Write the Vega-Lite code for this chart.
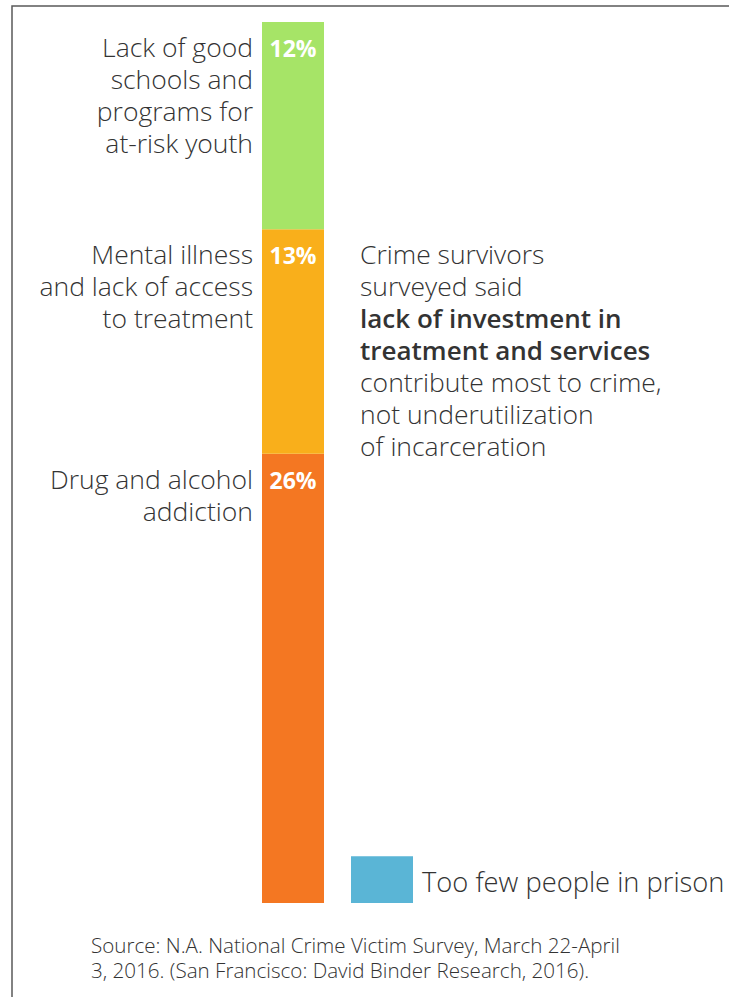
{
  "$schema": "https://vega.github.io/schema/vega-lite/v6.json",
  "width": 720,
  "height": 995,
  "autosize": "none",
  "padding": {"left": 12, "top": 6, "right": 0, "bottom": 0},
  "config": {
    "view": {"stroke": "#5a5a5a", "strokeWidth": 1.5},
    "text": {"font": "Open Sans"}
  },
  "data": {
    "values": [
      {"bar": "crime", "category": "Drug and alcohol addiction", "label": "Drug and alcohol\naddiction", "pct": "26%", "value": 26, "order": 1},
      {"bar": "crime", "category": "Mental illness and lack of access to treatment", "label": "Mental illness\nand lack of access\nto treatment", "pct": "13%", "value": 13, "order": 2},
      {"bar": "crime", "category": "Lack of good schools and programs for at-risk youth", "label": "Lack of good\nschools and\nprograms for\nat-risk youth", "pct": "12%", "value": 12, "order": 3},
      {"bar": "prison", "category": "Too few people in prison", "label": "Too few people in prison", "pct": "3%", "value": 2.7, "order": 1}
    ]
  },
  "transform": [
    {"stack": "value", "groupby": ["bar"], "sort": [{"field": "order", "order": "ascending"}], "as": ["v0", "v1"]}
  ],
  "encoding": {
    "x": {"field": "bar", "type": "nominal", "axis": null,
      "scale": {"type": "band", "domain": ["crime", "prison"], "range": [250, 401], "paddingInner": 0.3034, "paddingOuter": 0}},
    "y": {"field": "v1", "type": "quantitative", "axis": null,
      "scale": {"domain": [0, 51], "range": [897, 16], "zero": false, "nice": false}}
  },
  "layer": [
    {
      "mark": {"type": "bar"},
      "encoding": {
        "y": {"field": "v0", "type": "quantitative"},
        "y2": {"field": "v1"},
        "color": {"field": "category", "type": "nominal", "legend": null,
          "scale": {"domain": ["Drug and alcohol addiction", "Mental illness and lack of access to treatment", "Lack of good schools and programs for at-risk youth", "Too few people in prison"],
            "range": ["#f47722", "#f9af1b", "#a6e467", "#5ab5d6"]}}
      }
    },
    {
      "transform": [{"filter": "datum.bar === 'crime'"}],
      "mark": {"type": "text", "align": "center", "baseline": "alphabetic", "dy": 35, "fontSize": 23, "fontWeight": "bold", "color": "#ffffff"},
      "encoding": {
        "x": {"field": "bar", "type": "nominal", "bandPosition": 0.5},
        "text": {"field": "pct", "type": "nominal"}
      }
    },
    {
      "transform": [{"filter": "datum.bar === 'crime'"}],
      "mark": {"type": "text", "align": "right", "baseline": "alphabetic", "dx": -9, "dy": 35, "fontSize": 26.5, "fontWeight": 300, "color": "#333333", "lineBreak": "\n", "lineHeight": 32},
      "encoding": {
        "x": {"field": "bar", "type": "nominal", "bandPosition": 0},
        "text": {"field": "label", "type": "nominal"}
      }
    },
    {
      "transform": [{"filter": "datum.bar === 'prison'"}],
      "mark": {"type": "text", "align": "left", "baseline": "alphabetic", "dx": 9, "dy": -11, "fontSize": 27.3, "fontWeight": 300, "color": "#333333"},
      "encoding": {
        "x": {"field": "bar", "type": "nominal", "bandPosition": 1},
        "y": {"field": "v0", "type": "quantitative"},
        "text": {"field": "label", "type": "nominal"}
      }
    },
    {
      "transform": [{"filter": "datum.bar === 'crime' && datum.order === 2"}],
      "mark": {"type": "text", "align": "left", "baseline": "alphabetic", "dx": 36, "dy": 35, "fontSize": 26.5, "fontWeight": 300, "color": "#333333", "lineBreak": "\n", "lineHeight": 32},
      "encoding": {
        "x": {"field": "bar", "type": "nominal", "bandPosition": 1},
        "text": {"value": "Crime survivors\nsurveyed said"}
      }
    },
    {
      "transform": [{"filter": "datum.bar === 'crime' && datum.order === 2"}],
      "mark": {"type": "text", "align": "left", "baseline": "alphabetic", "dx": 36, "dy": 99, "fontSize": 26, "fontWeight": 600, "color": "#333333", "lineBreak": "\n", "lineHeight": 32},
      "encoding": {
        "x": {"field": "bar", "type": "nominal", "bandPosition": 1},
        "text": {"value": "lack of investment in\ntreatment and services"}
      }
    },
    {
      "transform": [{"filter": "datum.bar === 'crime' && datum.order === 2"}],
      "mark": {"type": "text", "align": "left", "baseline": "alphabetic", "dx": 36, "dy": 163, "fontSize": 26.5, "fontWeight": 300, "color": "#333333", "lineBreak": "\n", "lineHeight": 32},
      "encoding": {
        "x": {"field": "bar", "type": "nominal", "bandPosition": 1},
        "text": {"value": "contribute most to crime,\nnot underutilization\nof incarceration"}
      }
    },
    {
      "transform": [{"filter": "datum.bar === 'crime' && datum.order === 1"}],
      "mark": {"type": "text", "align": "left", "baseline": "alphabetic", "dx": -171, "dy": 50, "fontSize": 20.6, "fontWeight": 300, "color": "#333333", "lineBreak": "\n", "lineHeight": 25},
      "encoding": {
        "x": {"field": "bar", "type": "nominal", "bandPosition": 0},
        "y": {"field": "v0", "type": "quantitative"},
        "text": {"value": "Source: N.A. National Crime Victim Survey, March 22-April\n3, 2016. (San Francisco: David Binder Research, 2016)."}
      }
    }
  ]
}
